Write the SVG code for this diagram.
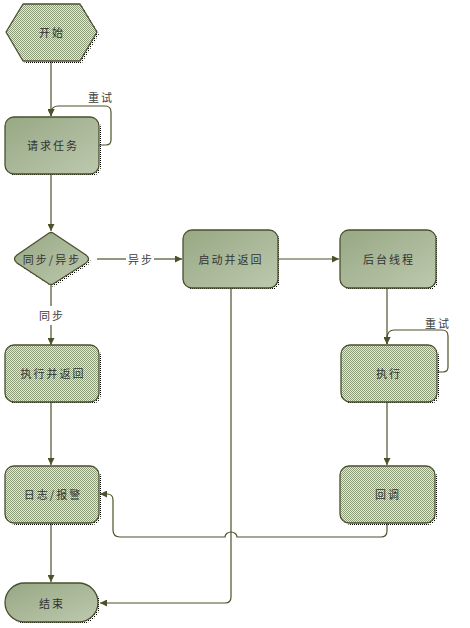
<svg xmlns="http://www.w3.org/2000/svg" width="470" height="628" viewBox="0 0 470 628">
<defs>
  <linearGradient id="grad" x1="0" y1="0" x2="1" y2="1">
    <stop offset="0" stop-color="#97a884"/>
    <stop offset="1" stop-color="#bdc9ae"/>
  </linearGradient>
  <pattern id="check" width="2" height="2" patternUnits="userSpaceOnUse">
    <rect width="2" height="2" fill="#e4e9dd"/>
    <rect width="1" height="1" fill="#8d9d7a"/>
    <rect x="1" y="1" width="1" height="1" fill="#8d9d7a"/>
  </pattern>
  <pattern id="dots" width="2" height="2" patternUnits="userSpaceOnUse">
    <rect width="1" height="1" fill="#000"/>
  </pattern>
  <marker id="arr" viewBox="0 0 10 10" refX="10" refY="5" markerWidth="7" markerHeight="7" markerUnits="userSpaceOnUse" orient="auto">
    <path d="M0,0 L10,5 L0,10 Z" fill="#4b5228"/>
  </marker>
</defs>
<style>
  .node { stroke: #4a4f2e; stroke-width: 1.3; }
  .g { fill: url(#grad); }
  .p { fill: url(#check); }
  .sh { fill: url(#dots); }
  .t { font-family: "Noto Sans CJK SC", "Noto Sans CJK JP", sans-serif; font-size: 11px; letter-spacing: 2px; fill: #333333; text-anchor: middle; dominant-baseline: central; }
  .c { fill: none; stroke: #4b5228; stroke-width: 1.2; }
  .lbl { font-family: "Noto Sans CJK SC", "Noto Sans CJK JP", sans-serif; font-size: 11px; letter-spacing: 2px; fill: #3c3c3c; text-anchor: middle; dominant-baseline: central; }
</style>
<rect width="470" height="628" fill="#fff"/>

<g id="connectors">
  <path class="c" d="M51,61 V116" marker-end="url(#arr)"/>
  <path class="c" d="M99,145 H106 Q111,145 111,140 V112 Q111,106 105,106 H58 Q52,106 51,112 V116" marker-end="url(#arr)"/>
  <path class="c" d="M51,174 V231" marker-end="url(#arr)"/>
  <path class="c" d="M97,259 H126"/>
  <path class="c" d="M154,259 H182" marker-end="url(#arr)"/>
  <path class="c" d="M278,259 H339" marker-end="url(#arr)"/>
  <path class="c" d="M51,285 V306"/>
  <path class="c" d="M51,325 V345" marker-end="url(#arr)"/>
  <path class="c" d="M51,402 V465" marker-end="url(#arr)"/>
  <path class="c" d="M51,523 V582" marker-end="url(#arr)"/>
  <path class="c" d="M231,288 V597 Q231,603 225,603 H100" marker-end="url(#arr)"/>
  <path class="c" d="M387,288 V344" marker-end="url(#arr)"/>
  <path class="c" d="M437,372 H443 Q448,372 448,367 V336 Q448,330 442,330 H394 Q388,330 387,337 V344" marker-end="url(#arr)"/>
  <path class="c" d="M387,402 V465" marker-end="url(#arr)"/>
  <path class="c" d="M387,523 V531 Q387,537 381,537 H237 A6,5 0 0 0 225,537 H120 Q113,537 113,530 V500 Q113,494 107,494 H100" marker-end="url(#arr)"/>
  <text class="lbl" x="101" y="97">重试</text>
  <text class="lbl" x="141" y="259">异步</text>
  <text class="lbl" x="52" y="315">同步</text>
  <text class="lbl" x="438" y="323">重试</text>
</g>

<g id="start">
  <path class="sh" d="M25,6 H82 L99,34 L82,63 H25 L8,34 Z"/>
  <path class="node p" d="M23,4 H80 L97,32 L80,61 H23 L6,32 Z" stroke-linejoin="round"/>
  <text class="t" x="52" y="32">开始</text>
</g>

<g id="request">
  <rect class="sh" x="7" y="119" width="94" height="57" rx="9"/>
  <rect class="node g" x="5" y="117" width="94" height="57" rx="9"/>
  <text class="t" x="53" y="145">请求任务</text>
</g>

<g id="decision">
  <path class="sh" d="M51,235 Q53,234 55,235 L88,257 Q93,261 88,265 L55,286 Q53,287 51,286 L19,265 Q14,261 19,257 Z"/>
  <path class="node g" d="M49,233 Q51,232 53,233 L86,255 Q91,259 86,263 L53,284 Q51,285 49,284 L17,263 Q12,259 17,255 Z"/>
  <text class="t" x="52" y="259">同步/异步</text>
</g>

<g id="launch">
  <rect class="sh" x="185" y="232" width="95" height="58" rx="9"/>
  <rect class="node g" x="183" y="230" width="95" height="58" rx="9"/>
  <text class="t" x="231" y="259">启动并返回</text>
</g>

<g id="background">
  <rect class="sh" x="342" y="232" width="96" height="58" rx="9"/>
  <rect class="node g" x="340" y="230" width="96" height="58" rx="9"/>
  <text class="t" x="389" y="259">后台线程</text>
</g>

<g id="execreturn">
  <rect class="sh" x="7" y="347" width="94" height="57" rx="9"/>
  <rect class="node p" x="5" y="345" width="94" height="57" rx="9"/>
  <text class="t" x="53" y="373">执行并返回</text>
</g>

<g id="exec">
  <rect class="sh" x="343" y="347" width="96" height="57" rx="9"/>
  <rect class="node p" x="341" y="345" width="96" height="57" rx="9"/>
  <text class="t" x="389" y="373">执行</text>
</g>

<g id="log">
  <rect class="sh" x="7" y="468" width="94" height="57" rx="9"/>
  <rect class="node p" x="5" y="466" width="94" height="57" rx="9"/>
  <text class="t" x="53" y="494">日志/报警</text>
</g>

<g id="callback">
  <rect class="sh" x="342" y="468" width="95" height="57" rx="9"/>
  <rect class="node p" x="340" y="466" width="95" height="57" rx="9"/>
  <text class="t" x="388" y="494">回调</text>
</g>

<g id="end">
  <rect class="sh" x="7" y="585" width="93" height="39" rx="19.5"/>
  <rect class="node g" x="5" y="583" width="93" height="39" rx="19.5"/>
  <text class="t" x="52" y="603">结束</text>
</g>
</svg>
